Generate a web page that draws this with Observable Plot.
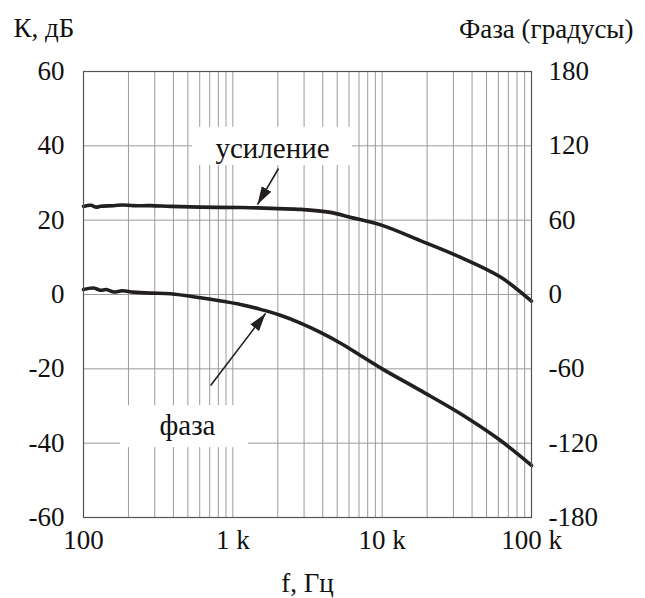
<!DOCTYPE html>
<html><head><meta charset="utf-8">
<script src="https://cdn.jsdelivr.net/npm/d3@7"></script>
<script src="https://cdn.jsdelivr.net/npm/@observablehq/plot@0.6"></script>
<style>
body{margin:0;background:#fff}
svg{display:block}
html body div#chart svg text, html body div#chart svg tspan { font-family: "Liberation Serif", serif !important; }
</style>
</head><body><div id="chart"></div>
<script>
// Axis ticks
const freqTicks = [100, 1000, 10000, 100000];
const freqTickLabels = ["100", "1 k", "10 k", "100 k"];
const gridFreqs = [200,300,400,500,600,700,800,900,1000,2000,3000,4000,5000,6000,7000,8000,9000,10000,20000,30000,40000,50000,60000,70000,80000,90000];
const dbTicks = [-60, -40, -20, 0, 20, 40, 60];
const dbTickLabels = ["-60", "-40", "-20", "0", "20", "40", "60"];
const degTickLabels = ["-180", "-120", "-60", "0", "60", "120", "180"];

// Gain (dB)
const gainFreq = [100,112,122,130,159,182,216,281,383,607,1124,1460,2000,2840,4500,6100,10000,18000,33500,62000,100000];
const gainDb   = [23.7,24.0,23.5,23.75,23.9,24.1,23.9,23.9,23.7,23.5,23.4,23.3,23.1,22.9,22.1,20.8,18.6,14.5,10.0,4.7,-1.8];

// Phase (degrees)
const phaseFreq = [100,117,130,142,159,182,216,281,383,607,1124,1530,2080,2840,3860,5270,7160,10000,18000,33500,62000,100000];
const phaseDeg  = [4.0,5.2,3.4,4.0,2.0,3.0,1.9,1.1,0.6,-2.7,-8.1,-12.0,-16.8,-23.1,-30.6,-39.3,-49.2,-60,-77.4,-96.3,-117.9,-138];

// Annotations
const annoText = ["усиление", "фаза"];
const annoFreq = [1845, 497];
const annoDb = [36.6, -37.9];
const boxF1 = [537, 177], boxF2 = [6340, 1274];
const boxDb1 = [34.7, -41.2], boxDb2 = [45.0, -29.9];
const arrowF1 = [2023, 710], arrowDb1 = [33.9, -24.5];
const arrowF2 = [1462, 1656], arrowDb2 = [24.2, -5.1];

const gain = gainFreq.map((f, i) => ({f, db: gainDb[i]}));
const phase = phaseFreq.map((f, i) => ({f, deg: phaseDeg[i]}));
const annos = annoText.map((t, i) => ({
  t, f: annoFreq[i], db: annoDb[i],
  bx1: boxF1[i], bx2: boxF2[i], by1: boxDb1[i], by2: boxDb2[i],
  ax1: arrowF1[i], ay1: arrowDb1[i], ax2: arrowF2[i], ay2: arrowDb2[i]
}));

function arrowHead(color, context) {
  const ns = "http://www.w3.org/2000/svg";
  const doc = (context && context.document) || document;
  const m = doc.createElementNS(ns, "marker");
  m.setAttribute("viewBox", "-18 -6 18 12");
  m.setAttribute("markerWidth", 18);
  m.setAttribute("markerHeight", 12);
  m.setAttribute("markerUnits", "userSpaceOnUse");
  m.setAttribute("orient", "auto");
  const p = doc.createElementNS(ns, "path");
  p.setAttribute("d", "M-18,-5.5L0,0L-18,5.5Z");
  p.setAttribute("fill", color);
  p.setAttribute("stroke", "none");
  m.appendChild(p);
  return m;
}

const FONT = "Liberation Serif";
const FS = 27;

const chart = Plot.plot({
  width: 645, height: 598,
  marginLeft: 83, marginRight: 114, marginTop: 71, marginBottom: 81,
  style: {background: "#fff", color: "#111"},
  x: {type: "log", domain: [100, 100000]},
  y: {domain: [-60, 60]},
  marks: [
    Plot.ruleX(gridFreqs, {stroke: "#9a9a9a", strokeWidth: 1}),
    Plot.ruleY(dbTicks, {stroke: "#9a9a9a", strokeWidth: 1}),
    Plot.rect(annos, {x1: "bx1", x2: "bx2", y1: "by1", y2: "by2", fill: "#fff"}),
    Plot.line(gain, {x: "f", y: "db", stroke: "#231f20", strokeWidth: 3.6, curve: "catmull-rom"}),
    Plot.line(phase, {x: "f", y: d => d.deg / 3, stroke: "#231f20", strokeWidth: 3.6, curve: "catmull-rom"}),
    Plot.link(annos, {x1: "ax1", y1: "ay1", x2: "ax2", y2: "ay2", stroke: "#231f20", strokeWidth: 1.6, markerEnd: arrowHead}),
    Plot.text(annos, {x: "f", y: "db", text: "t", fontSize: 29, fontFamily: FONT, lineAnchor: "bottom", fill: "#111"}),
    Plot.frame({stroke: "#555", strokeWidth: 1.2}),
    Plot.axisY(dbTicks, {anchor: "left", tickSize: 0, tickPadding: 19, fontSize: FS, fontFamily: FONT, label: null,
      tickFormat: d => dbTickLabels[dbTicks.indexOf(d)]}),
    Plot.axisY(dbTicks, {anchor: "right", tickSize: 0, tickPadding: 17, fontSize: FS, fontFamily: FONT, label: null,
      tickFormat: d => degTickLabels[dbTicks.indexOf(d)]}),
    Plot.axisX(freqTicks, {anchor: "bottom", tickSize: 0, tickPadding: 12, fontSize: FS, fontFamily: FONT, label: null,
      tickFormat: d => freqTickLabels[freqTicks.indexOf(d)]}),
    Plot.text(["К, дБ"], {frameAnchor: "top-left", dx: -70, dy: -35, textAnchor: "start", lineAnchor: "bottom", fontSize: FS, fontFamily: FONT, fill: "#111"}),
    Plot.text(["Фаза (градусы)"], {frameAnchor: "top-right", dx: 102, dy: -34, textAnchor: "end", lineAnchor: "bottom", fontSize: FS, fontFamily: FONT, fill: "#111"}),
    Plot.text(["f, Гц"], {frameAnchor: "bottom", dy: 74, lineAnchor: "bottom", fontSize: FS, fontFamily: FONT, fill: "#111"})
  ]
});
document.getElementById("chart").appendChild(chart);

function forceSerif() {
  const svg = document.querySelector("#chart svg");
  if (!svg) return;
  svg.setAttribute("font-family", FONT);
  svg.style.setProperty("font-family", "'Liberation Serif', serif", "important");
  svg.querySelectorAll("g, text, tspan").forEach(el => {
    el.setAttribute("font-family", FONT);
    el.style.setProperty("font-family", "'Liberation Serif', serif", "important");
  });
}
forceSerif();
requestAnimationFrame(forceSerif);
setTimeout(forceSerif, 50);
setTimeout(forceSerif, 400);
window.addEventListener("load", forceSerif);
</script>
</body></html>
